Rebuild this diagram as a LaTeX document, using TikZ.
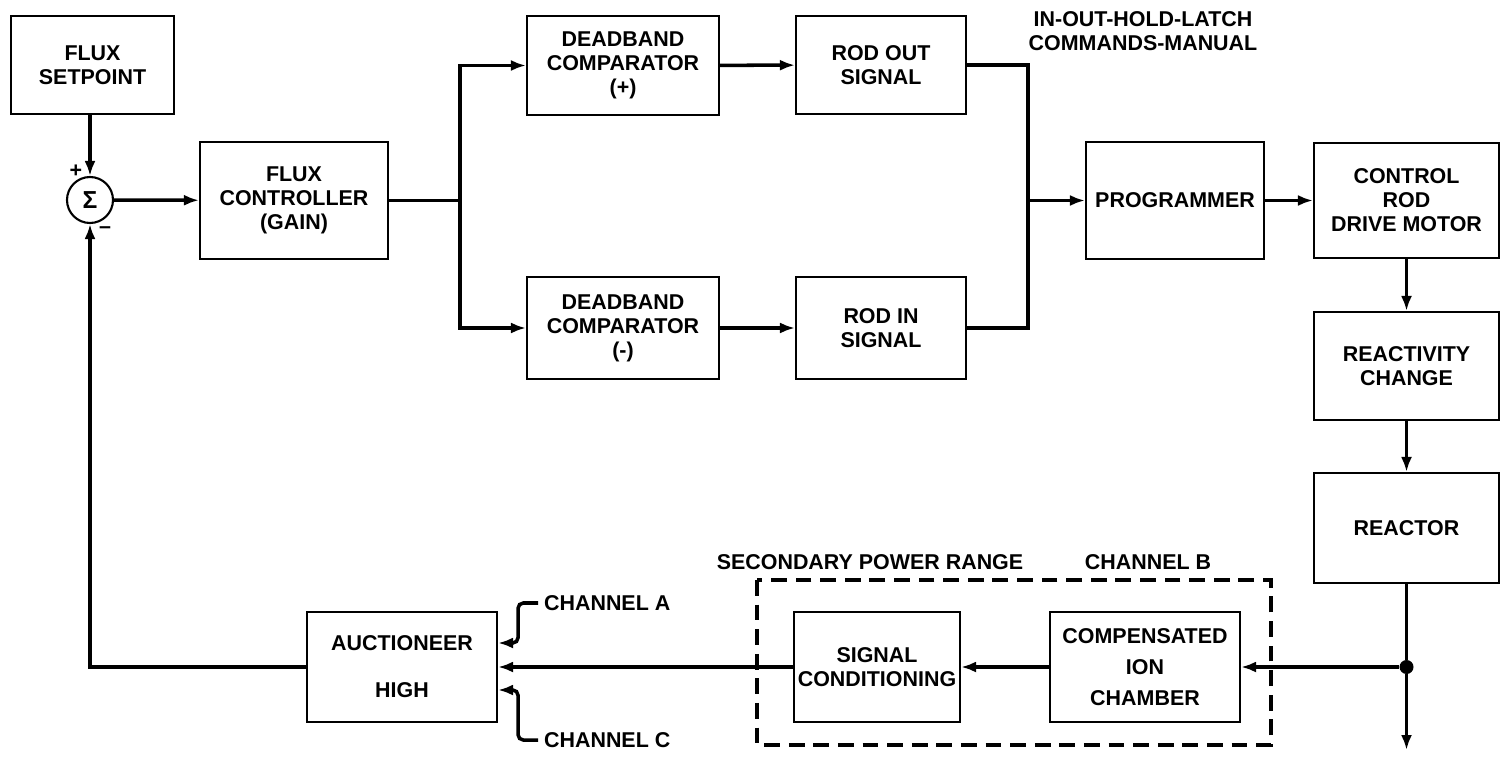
\documentclass[tikz,border=0pt]{standalone}
\usepackage{fontspec}
\setsansfont{Liberation Sans}
\usetikzlibrary{arrows.meta,positioning,calc}
\newcommand{\blkfont}{\sffamily\bfseries\fontsize{12.2}{13.7}\selectfont}

\begin{document}
\begin{tikzpicture}[x=0.02cm,y=-0.02cm,>={Latex[length=3mm,width=2.2mm]},
 blk/.style={draw,line width=1.2pt,align=center,inner sep=2pt,font=\blkfont},
 lbl/.style={align=center,inner sep=1pt,font=\blkfont},
 wire/.style={line width=2pt}]
 \useasboundingbox (0,0) rectangle (1507,760);
 % forward path
 \node[blk,minimum width=3.26cm,minimum height=1.96cm] (setp) at (92.5,65) {FLUX\\SETPOINT};
 \node[draw,circle,line width=1.2pt,minimum size=0.92cm,inner sep=0pt,font=\sffamily\bfseries\fontsize{14}{14}\selectfont] (sum) at (90,200) {Σ};
 \node[lbl] (plus) at (76,171) {+};
 \node[lbl] (minus) at (105,230) {–};
 \node[blk,minimum width=3.76cm,minimum height=2.34cm] (ctrl) at (294,200.5) {FLUX\\CONTROLLER\\(GAIN)};
 \node[blk,minimum width=3.84cm,minimum height=1.98cm] (dbp) at (623,65.5) {DEADBAND\\COMPARATOR\\(+)};
 \node[blk,minimum width=3.4cm,minimum height=1.96cm] (rodout) at (881,65) {ROD OUT\\SIGNAL};
 \node[blk,minimum width=3.84cm,minimum height=2.04cm] (dbm) at (623,328) {DEADBAND\\COMPARATOR\\(-)};
 \node[blk,minimum width=3.4cm,minimum height=2.04cm] (rodin) at (881,328) {ROD IN\\SIGNAL};
 \node[blk,minimum width=3.56cm,minimum height=2.34cm] (prog) at (1175,200.5) {PROGRAMMER};
 \node[lbl] (cmds) at (1143,31) {IN-OUT-HOLD-LATCH\\COMMANDS-MANUAL};
 \node[blk,minimum width=3.7cm,minimum height=2.3cm] (crdm) at (1406.5,200.5) {CONTROL\\ROD\\DRIVE MOTOR};
 \node[blk,minimum width=3.7cm,minimum height=2.16cm] (react) at (1406.5,366) {REACTIVITY\\CHANGE};
 \node[blk,minimum width=3.7cm,minimum height=2.2cm] (reactor) at (1406.5,528) {REACTOR};
 % feedback path
 \node[blk,minimum width=3.8cm,minimum height=2.2cm] (ion) at (1145,667) {COMPENSATED\\[4pt]ION\\[4pt]CHAMBER};
 \node[blk,minimum width=3.32cm,minimum height=2.2cm] (sigc) at (877,667) {SIGNAL\\CONDITIONING};
 \node[blk,minimum width=3.8cm,minimum height=2.2cm] (auct) at (402,667) {AUCTIONEER\\[13pt]HIGH};
 \draw[line width=1.8pt,dash pattern=on 9pt off 5pt] (757,580) rectangle (1271,745);
 \node[lbl] (spr) at (870,562) {SECONDARY POWER RANGE};
 \node[lbl] (chB) at (1148,562) {CHANNEL B};
 \node[lbl,anchor=west] (chA) at (542,603) {CHANNEL A};
 \node[lbl,anchor=west] (chC) at (542,740) {CHANNEL C};
 \node[circle,fill,inner sep=0pt,minimum size=0.28cm] (jn) at (reactor.south |- ion.east) {};
 \coordinate (out) at (jn |- 0,750);
 \coordinate (split) at (460,200.5);
 \coordinate (merge) at (1028,200.5);
 \coordinate (inA) at ($(auct.east)+(0,-24)$);
 \coordinate (inC) at ($(auct.east)+(0,23)$);
 % connectors
 \draw[wire,->] (sum |- setp.south) -- (sum);
 \draw[wire,->] (sum) -- (ctrl);
 \draw[wire] (ctrl) -- (split);
 \draw[wire,->] (split) |- (dbp.west);
 \draw[wire,->] (split) |- (dbm.west);
 \draw[wire,->] (dbp) -- (rodout);
 \draw[wire,->] (dbm) -- (rodin);
 \draw[wire] (rodout.east) -| (merge) |- (rodin.east);
 \draw[wire,->] (merge) -- (prog);
 \draw[wire,->] (prog) -- (crdm);
 \draw[wire,->] (crdm) -- (react);
 \draw[wire,->] (react) -- (reactor);
 \draw[wire] (reactor) -- (jn);
 \draw[wire,->] (jn) -- (out);
 \draw[wire,->] (jn) -- (ion);
 \draw[wire,->] (ion) -- (sigc);
 \draw[wire,->] (sigc) -- (auct);
 \draw[wire,->] (auct.west) -| (sum.south);
 \draw[wire,->,rounded corners=3pt] ($(chA.west)+(-4,0)$) -| ($(inA)+(20,0)$) -- (inA);
 \draw[wire,->,rounded corners=3pt] ($(chC.west)+(-4,0)$) -| ($(inC)+(20,0)$) -- (inC);
\end{tikzpicture}
\end{document}
